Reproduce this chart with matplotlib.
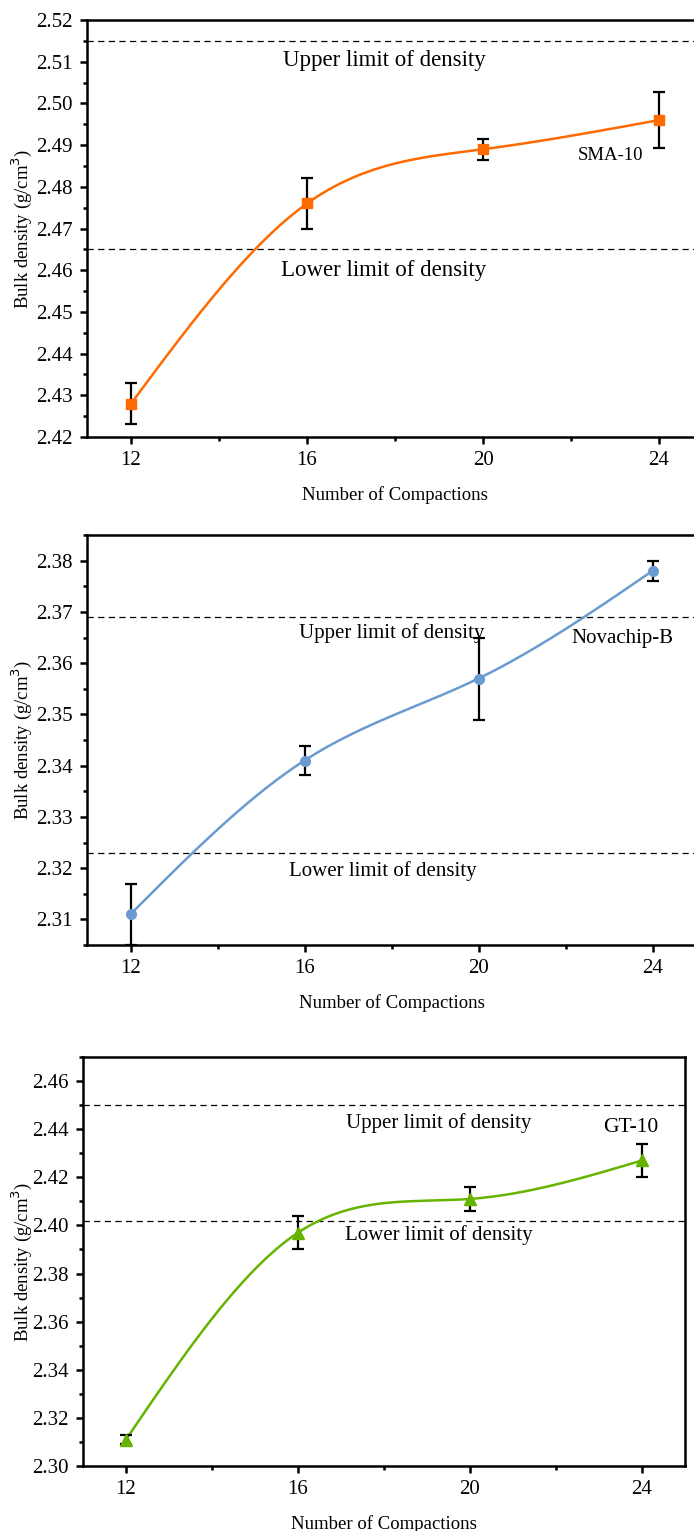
import numpy as np
import matplotlib
matplotlib.use('Agg')
import matplotlib.pyplot as plt
from matplotlib.ticker import MultipleLocator, FormatStrFormatter

plt.rcParams['font.family'] = ['Liberation Serif', 'DejaVu Serif']

# Data
compactions = [12, 16, 20, 24]

sma_density = [2.428, 2.476, 2.489, 2.496]
sma_err = [0.005, 0.006, 0.0025, 0.0067]
sma_limits = [2.515, 2.465]

nova_density = [2.311, 2.341, 2.357, 2.378]
nova_err = [0.006, 0.0028, 0.008, 0.002]
nova_limits = [2.369, 2.323]

gt_density = [2.311, 2.397, 2.411, 2.427]
gt_err = [0.002, 0.007, 0.005, 0.0067]
gt_limits = [2.450, 2.402]

W, H = 694, 1531


def spline(x, y, n=200):
    # natural cubic spline, just for the smooth connecting line
    x = np.asarray(x, float)
    y = np.asarray(y, float)
    k = len(x)
    h = np.diff(x)
    A = np.zeros((k, k))
    b = np.zeros(k)
    A[0, 0] = A[-1, -1] = 1
    for i in range(1, k - 1):
        A[i, i - 1] = h[i - 1]
        A[i, i] = 2 * (h[i - 1] + h[i])
        A[i, i + 1] = h[i]
        b[i] = 6 * ((y[i + 1] - y[i]) / h[i] - (y[i] - y[i - 1]) / h[i - 1])
    M = np.linalg.solve(A, b)
    xs = np.linspace(x[0], x[-1], n)
    ys = np.empty_like(xs)
    for j, t in enumerate(xs):
        i = min(np.searchsorted(x, t, side='right') - 1, k - 2)
        a, c = x[i], x[i + 1]
        ys[j] = (M[i] * (c - t) ** 3 / (6 * h[i]) + M[i + 1] * (t - a) ** 3 / (6 * h[i])
                 + (y[i] / h[i] - M[i] * h[i] / 6) * (c - t)
                 + (y[i + 1] / h[i] - M[i + 1] * h[i] / 6) * (t - a))
    return xs, ys


def panel(box, y, err, limits, color, marker, ms, ylim, ymaj, name, name_xy,
          up_xy, low_xy, note_fs, name_fs):
    left, right, top, bottom = box
    ax = fig.add_axes([left / W, 1 - bottom / H, (right - left) / W, (bottom - top) / H])
    xs, ys = spline(compactions, y)
    ax.plot(xs, ys, color=color, lw=1.8, zorder=2)
    ax.errorbar(compactions, y, yerr=err, fmt='none', ecolor='black', elinewidth=1.6,
                capsize=4, capthick=1.6, zorder=3)
    ax.plot(compactions, y, linestyle='none', marker=marker, ms=ms, color=color, zorder=4)
    for lim in limits:
        ax.axhline(lim, color='black', lw=0.9, ls=(0, (5, 3.5)), zorder=1)
    ax.text(*up_xy, 'Upper limit of density', fontsize=note_fs, ha='center', va='center')
    ax.text(*low_xy, 'Lower limit of density', fontsize=note_fs, ha='center', va='center')
    ax.text(*name_xy, name, fontsize=name_fs, ha='center', va='center')
    ax.set_xlim(11, 25)
    ax.set_ylim(*ylim)
    ax.set_xticks(compactions)
    ax.xaxis.set_minor_locator(MultipleLocator(2))
    ax.yaxis.set_major_locator(MultipleLocator(ymaj))
    ax.yaxis.set_minor_locator(MultipleLocator(ymaj / 2))
    ax.yaxis.set_major_formatter(FormatStrFormatter('%.2f'))
    ax.tick_params(which='major', direction='out', length=5, width=1.8, labelsize=15, pad=5)
    ax.tick_params(which='minor', direction='out', length=3, width=1.8)
    for s in ax.spines.values():
        s.set_linewidth(1.8)
    ax.set_xlabel('Number of Compactions', fontsize=13.5, labelpad=12)
    ax.set_ylabel('Bulk density (g/cm$^3$)', fontsize=13.5)
    ax.yaxis.set_label_coords((34 - left) / (right - left), 0.5)
    return ax


fig = plt.figure(figsize=(W / 100, H / 100), dpi=100)

panel((87, 703, 20, 437), sma_density, sma_err, sma_limits, '#FF6A00', 's', 7.5,
      (2.42, 2.52), 0.01, 'SMA-10', (22.9, 2.4876), (17.75, 2.5104), (17.75, 2.460),
      16.5, 13.5)
panel((87, 696, 535, 945), nova_density, nova_err, nova_limits, '#6A9BD0', 'o', 7,
      (2.305, 2.385), 0.01, 'Novachip-B', (23.3, 2.3648), (18.0, 2.3659), (17.8, 2.3195),
      15, 15)
panel((83, 685, 1057, 1466), gt_density, gt_err, gt_limits, '#66B400', '^', 8,
      (2.30, 2.47), 0.02, 'GT-10', (23.74, 2.4408), (19.28, 2.4425), (19.28, 2.3962),
      15, 15.5)

fig.savefig('out.png', dpi=100)
